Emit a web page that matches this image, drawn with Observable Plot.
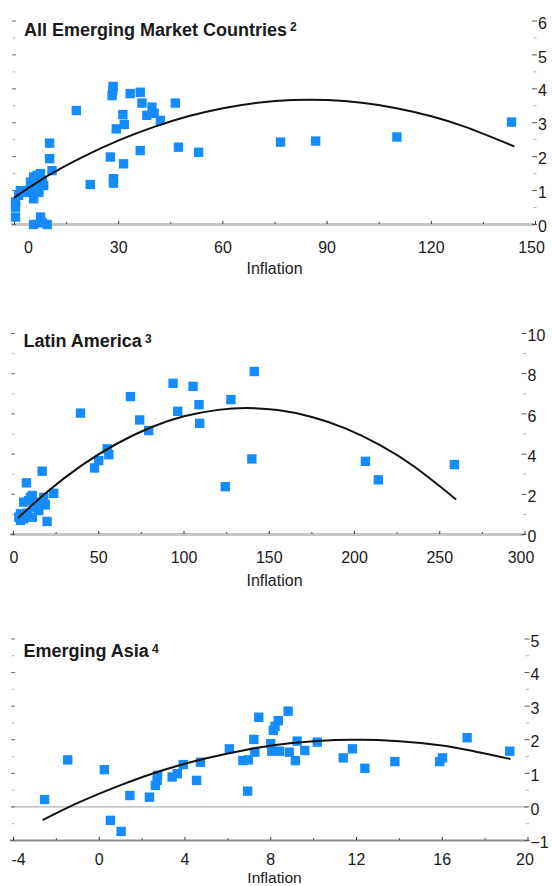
<!DOCTYPE html>
<html>
<head>
<meta charset="utf-8">
<script src="https://cdn.jsdelivr.net/npm/d3@7"></script>
<script src="https://cdn.jsdelivr.net/npm/@observablehq/plot@0.6"></script>
<style>
  html, body { margin: 0; padding: 0; background: #fff; }
  #charts { width: 552px; height: 886px; overflow: hidden; }
  #charts svg { display: block; }
</style>
</head>
<body>
<div id="charts"></div>
<script>
// ---- All emerging market countries ----
const emInflation = [28.4, 28.3, 28.1, 33.3, 36.2, 36.7, 39.6, 40.2, 38.1, 42.0,
  46.3, 17.8, 31.2, 31.6, 29.3, 36.2, 47.2, 53.0, 27.6, 31.4,
  28.5, 28.5, 21.8, 10.1, 10.1, 10.8, 7.5, 5.5, 4.6, 6.0,
  3.6, 2.2, 1.2, 0.3, 5.5, 7.0, 8.0, 8.4, 0.3, 7.5,
  5.5, 9.4, 8.0, 6.5, 7.0, 4.6, 1.7, 0.3, 76.6, 86.7,
  110.1, 143.1];
const emValue = [4.07, 3.95, 3.80, 3.86, 3.90, 3.58, 3.46, 3.28, 3.22, 3.07,
  3.58, 3.36, 3.24, 2.95, 2.82, 2.18, 2.28, 2.13, 1.99, 1.79,
  1.35, 1.22, 1.18, 2.40, 1.94, 1.59, 1.50, 1.40, 1.25, 1.10,
  1.00, 0.95, 0.86, 0.66, 0.76, 0.95, 1.30, 1.15, 0.22, 0.22,
  0.00, 0.00, 0.05, 1.45, 1.05, 0.95, 1.00, 0.51, 2.43, 2.46,
  2.58, 3.02];
// fitted curve, read along its length
const emFitInflation = [0, 10, 20, 30, 40, 50, 60, 70, 80, 90, 100, 110, 120, 130, 143.7];
const emFitValue = [0.80, 1.46, 2.01, 2.48, 2.87, 3.19, 3.43, 3.59, 3.67, 3.67, 3.59, 3.43, 3.19, 2.87, 2.31];
const emXTicks = [0, 30, 60, 90, 120, 150];
const emXMinor = [15, 45, 75, 105, 135];
const emYTicks = [0, 1, 2, 3, 4, 5, 6];
const emYMinor = [0.5, 1.5, 2.5, 3.5, 4.5, 5.5];

// ---- Latin America ----
const laInflation = [141.2, 93.6, 105.3, 68.6, 127.5, 108.8, 39.3, 96.3, 74.0, 109.2,
  79.3, 139.8, 124.2, 54.9, 55.9, 50.0, 47.5, 16.8, 7.6, 23.6,
  11.0, 9.0, 15.8, 18.7, 11.9, 14.8, 4.1, 8.0, 11.0, 4.1,
  19.7, 6.0, 3.1, 6.0, 10.0, 13.9, 17.8, 206.4, 214.0, 258.6];
const laValue = [8.11, 7.52, 7.37, 6.86, 6.71, 6.46, 6.04, 6.13, 5.70, 5.53,
  5.17, 3.76, 2.38, 4.26, 3.97, 3.68, 3.31, 3.15, 2.57, 2.05,
  1.94, 1.69, 1.61, 1.47, 1.36, 1.19, 1.03, 1.06, 0.86, 0.70,
  0.65, 0.78, 0.86, 1.61, 1.85, 1.36, 1.85, 3.64, 2.72, 3.48];
const laFitInflation = [3, 20, 40, 60, 80, 100, 120, 137, 155, 175, 195, 215, 235, 259.2];
const laFitValue = [0.85, 2.14, 3.44, 4.49, 5.31, 5.88, 6.20, 6.29, 6.19, 5.85, 5.27, 4.45, 3.38, 1.77];
const laXTicks = [0, 50, 100, 150, 200, 250, 300];
const laXMinor = [25, 75, 125, 175, 225, 275];
const laYTicks = [0, 2, 4, 6, 8, 10];
const laYMinor = [1, 3, 5, 7, 9];

// ---- Emerging Asia ----
const asInflation = [-2.55, -1.47, 0.24, 0.52, 1.02, 1.43, 2.34, 2.62, 2.70, 2.72,
  3.40, 3.64, 3.92, 4.54, 4.72, 6.07, 6.70, 6.95, 6.92, 7.26,
  7.21, 7.44, 8.00, 8.05, 8.12, 8.20, 8.35, 8.40, 8.81, 8.86,
  9.15, 9.23, 9.59, 10.17, 11.38, 11.81, 12.39, 13.79, 15.88, 16.01,
  17.16, 19.15];
const asValue = [0.22, 1.40, 1.11, -0.40, -0.73, 0.34, 0.29, 0.64, 0.79, 0.94,
  0.89, 0.99, 1.26, 0.79, 1.33, 1.73, 1.38, 1.40, 0.47, 1.63,
  2.01, 2.67, 1.88, 1.66, 2.28, 2.40, 2.57, 1.66, 2.85, 1.63,
  1.38, 1.96, 1.68, 1.93, 1.46, 1.73, 1.15, 1.35, 1.35, 1.46,
  2.06, 1.66];
const asFitInflation = [-2.6, -1, 1, 3, 5, 7, 9, 11, 12, 13, 15, 17, 19.15];
const asFitValue = [-0.38, 0.12, 0.65, 1.10, 1.45, 1.72, 1.90, 1.99, 2.00, 1.99, 1.90, 1.72, 1.43];
const asXTicks = [-4, 0, 4, 8, 12, 16, 20];
const asXMinor = [-2, 2, 6, 10, 14, 18];
const asYTicks = [-1, 0, 1, 2, 3, 4, 5];
const asYMinor = [-0.5, 0.5, 1.5, 2.5, 3.5, 4.5];

const FONT = "'Liberation Sans', Arial, Helvetica, sans-serif";
const INK = "#1a1a1a";
const BLUE = "#148cff";
const WIDTH = 552;
const CAPTION_X = 274; // horizontal centre of the "Inflation" captions

const blank = () => "";

function panel(cfg) {
  const points = cfg.xs.map((x, i) => ({x, y: cfg.ys[i]}));
  const fit = cfg.fx.map((x, i) => ({x, y: cfg.fy[i]}));
  const frameMid = (cfg.ml + (WIDTH - cfg.mr)) / 2;
  const xLabel = (ticks, dx) => Plot.axisX(ticks, {
    anchor: "bottom", tickSize: 0, tickPadding: cfg.xPad, dx, fontSize: 16,
    tickFormat: (d) => String(d), label: null
  });
  const svg = Plot.plot({
    width: WIDTH,
    height: cfg.height,
    marginTop: cfg.mt,
    marginBottom: cfg.mb,
    marginLeft: cfg.ml,
    marginRight: cfg.mr,
    style: {fontFamily: FONT, color: INK, background: "#fff", overflow: "visible"},
    x: {domain: cfg.xDomain, label: null},
    y: {domain: cfg.yDomain, label: null},
    marks: [
      cfg.zero ? Plot.ruleY([0], {stroke: "#b4b4b4", strokeWidth: 1.4, insetLeft: -2}) : null,
      Plot.ruleY([cfg.yDomain[0]], {stroke: cfg.baseColor, strokeWidth: cfg.baseWidth, insetLeft: -3}),
      // left-hand tick marks (unlabelled)
      Plot.axisY(cfg.yTicks, {anchor: "left", tickSize: 4, dx: 2, tickFormat: blank, stroke: "#6a6a6a", label: null}),
      Plot.axisY(cfg.yMinor, {anchor: "left", tickSize: 2.5, dx: 1.25, tickFormat: blank, stroke: "#b0b0b0", label: null}),
      // right-hand scale
      Plot.axisY(cfg.yTicks, {anchor: "right", tickSize: 5, dx: -4, tickFormat: blank, stroke: "#555", label: null}),
      Plot.axisY(cfg.yMinor, {anchor: "right", tickSize: 3, dx: -2.5, tickFormat: blank, stroke: "#b0b0b0", label: null}),
      Plot.axisY(cfg.yTicks, {anchor: "right", tickSize: 0, tickPadding: 2.5, dy: 2.5, fontSize: 16,
        tickFormat: (d) => (d < 0 ? "\u2212" + Math.abs(d) : String(d)), label: null}),
      // x axis ticks sitting on the base line
      Plot.axisX(cfg.xTicks, {anchor: "bottom", tickSize: 3, dy: -3, tickFormat: blank, stroke: "#333", label: null}),
      Plot.axisX(cfg.xMinor, {anchor: "bottom", tickSize: 2, dy: -2, tickFormat: blank, stroke: "#555", label: null}),
      xLabel(cfg.xTicks.slice(1, -1), 0),
      xLabel(cfg.xTicks.slice(0, 1), cfg.firstDx),
      xLabel(cfg.xTicks.slice(-1), cfg.lastDx),
      // observations and fitted curve
      Plot.dot(points, {x: "x", y: "y", symbol: "square", r: 5.3, fill: BLUE}),
      Plot.line(fit, {x: "x", y: "y", curve: "natural", stroke: "#111", strokeWidth: 2}),
      // panel title and caption
      Plot.text([cfg.title], {
        text: (d) => d, frameAnchor: "top-left", dx: cfg.titleX - cfg.ml, dy: cfg.titleDy,
        textAnchor: "start", lineAnchor: "top", fontSize: 18, fontWeight: "bold", fill: INK
      }),
      Plot.text(["Inflation"], {
        text: (d) => d, frameAnchor: "bottom", dx: CAPTION_X - frameMid, dy: cfg.captionDy,
        lineAnchor: "middle", fontSize: cfg.captionSize, fill: INK
      })
    ]
  });
  // footnote marker after the title
  const t = Array.from(svg.querySelectorAll("text")).find((e) => e.textContent === cfg.title);
  if (t) {
    const sup = document.createElementNS("http://www.w3.org/2000/svg", "tspan");
    sup.setAttribute("dx", "3");
    sup.setAttribute("dy", "-4.5");
    sup.setAttribute("font-size", "12");
    sup.textContent = cfg.note;
    t.appendChild(sup);
  }
  return svg;
}

const host = document.getElementById("charts");

host.appendChild(panel({
  title: "All Emerging Market Countries", note: "2",
  xs: emInflation, ys: emValue, fx: emFitInflation, fy: emFitValue,
  xDomain: [0, 150], yDomain: [0, 6],
  xTicks: emXTicks, xMinor: emXMinor, yTicks: emYTicks, yMinor: emYMinor,
  height: 290, mt: 20.5, mb: 66, ml: 14, mr: 17,
  titleX: 23.5, titleDy: 2.2, xPad: 17.5, firstDx: 14, lastDx: -4,
  captionDy: 44, captionSize: 16,
  baseColor: "#c6c6c6", baseWidth: 3, zero: false
}));

host.appendChild(panel({
  title: "Latin America", note: "3",
  xs: laInflation, ys: laValue, fx: laFitInflation, fy: laFitValue,
  xDomain: [0, 300], yDomain: [0, 10],
  xTicks: laXTicks, xMinor: laXMinor, yTicks: laYTicks, yMinor: laYMinor,
  height: 300, mt: 43, mb: 56, ml: 13, mr: 27.5,
  titleX: 23, titleDy: 1.2, xPad: 17.5, firstDx: 0.5, lastDx: -4,
  captionDy: 46, captionSize: 16,
  baseColor: "#c6c6c6", baseWidth: 3, zero: false
}));

host.appendChild(panel({
  title: "Emerging Asia", note: "4",
  xs: asInflation, ys: asValue, fx: asFitInflation, fy: asFitValue,
  xDomain: [-4, 20], yDomain: [-1, 5],
  xTicks: asXTicks, xMinor: asXMinor, yTicks: asYTicks, yMinor: asYMinor,
  height: 296, mt: 48.5, mb: 46, ml: 13, mr: 24.5,
  titleX: 23, titleDy: 5.7, xPad: 13.5, firstDx: 5, lastDx: -3,
  captionDy: 37.5, captionSize: 15.5,
  baseColor: "#8a8a8a", baseWidth: 2, zero: true
}));
</script>
</body>
</html>
